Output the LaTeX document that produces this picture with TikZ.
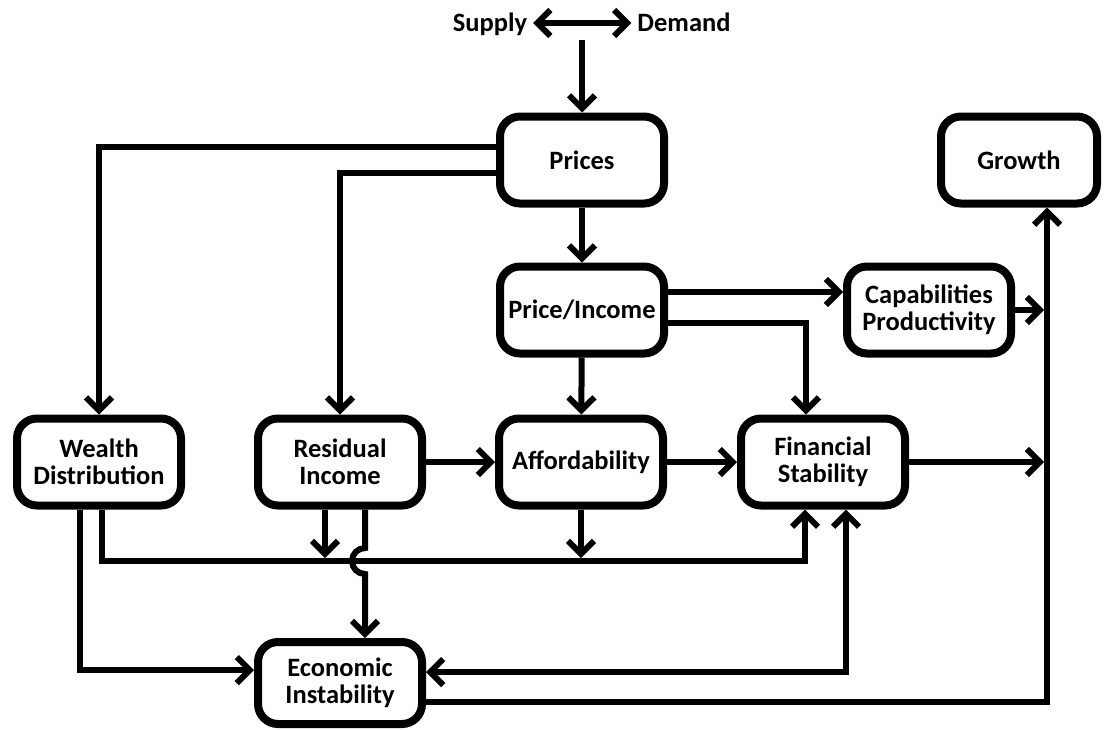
\documentclass[tikz,border=0pt]{standalone}
\usepackage{fontspec}
\setmainfont{Carlito}
\usepackage{tikz}
\usetikzlibrary{arrows.meta}

\tikzset{
  box/.style={draw, line width=8pt, rounded corners=20pt, minimum width=164pt, minimum height=87pt, inner sep=2pt, align=center},
  word/.style={inner sep=3pt, text height=0.65em, text depth=0pt},
}

\begin{document}
\begin{tikzpicture}[x=1pt, y=-1pt, line width=6pt, >={Straight Barb[length=13pt,width=26pt]}, font=\fontsize{26.5}{27}\selectfont\bfseries]
\useasboundingbox (0,0) rectangle (1104,729);
\node[word](supply) at (490,28) {Supply};
\node[word](demand) at (684,28) {Demand};
\coordinate(sd) at (582,40);
\coordinate(bus) at (0,561);
\coordinate(hop) at (0,548);
\coordinate(gline) at (1047,0);
%
\node[box](prices) at (582,160) {Prices};
\node[box, minimum width=156pt](growth) at (1019,160) {Growth};
\node[box](pi) at (582,310) {Price/Income};
\node[box](cap) at (929,310) {Capabilities\\Productivity};
\node[box](wealth) at (99,462) {Wealth\\Distribution};
\node[box](resid) at (340,462) {Residual\\Income};
\node[box](afford) at (581,462) {Affordability};
\node[box](fin) at (823,462) {Financial\\Stability};
\node[box, minimum height=82pt](econ) at (340,683) {Economic\\Instability};
%
\draw[<->]([yshift=5pt]supply.east) -- ([yshift=5pt]demand.west);
\draw[->](sd) -- (prices.north);
\draw[->]([yshift=13pt]prices.west) -| (wealth.north);
\draw[->]([yshift=-13pt]prices.west) -| (resid.north);
\draw[->](prices) -- (pi);
\draw[->]([yshift=18pt]pi.east) -- ([yshift=18pt]pi.east -| cap.west);
\draw[->]([yshift=-13pt]pi.east) -| ([xshift=-17pt]fin.north);
\draw[->](pi) -- (afford);
\draw[->, shorten >=3pt](cap.east) -- (cap.east -| gline);
\draw[->](resid) -- (afford);
\draw[->](afford) -- (fin);
\draw[->, shorten >=3pt](fin.east) -- (fin.east -| gline);
\draw[->]([yshift=-19pt]econ.east) -| ([xshift=28pt]growth.south);
%
\draw[->]([xshift=-19pt]wealth.south) |- ([yshift=13pt]econ.west);
\draw[->]([xshift=3pt]wealth.south) -- ([xshift=3pt]wealth.south |- bus) -| ([xshift=-18pt]fin.south);
\draw[->, shorten >=3pt]([xshift=-15pt]resid.south) -- ([xshift=-15pt]resid.south |- bus);
\draw[->, shorten >=3pt](afford.south) -- (afford.south |- bus);
\draw[->]([xshift=25pt]resid.south) -- ([xshift=25pt]resid.south |- hop) arc[start angle=90, end angle=270, radius=13pt] -- ([xshift=25pt]econ.north);
\draw[<->]([xshift=23pt]fin.south) |- ([yshift=11pt]econ.east);
\end{tikzpicture}
\end{document}
